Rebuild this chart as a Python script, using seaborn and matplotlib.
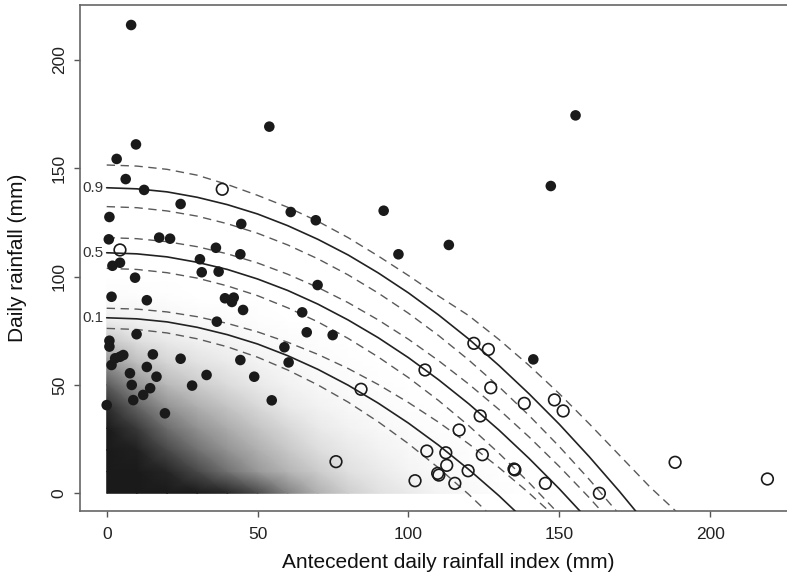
import numpy as np
import pandas as pd
import matplotlib
matplotlib.use("Agg")
import matplotlib.pyplot as plt
import seaborn as sns
from matplotlib.colors import LinearSegmentedColormap

# ---------------- data ----------------
# landslide-triggering events (filled circles)
filled_x = [8.1, 53.9, 155.4, 9.7, 3.3, 6.3, 147.2, 12.4, 24.5, 0.9, 61.0, 69.3, 91.8,
            44.6, 0.7, 17.4, 21.0, 36.2, 44.3, 96.7, 113.4, 30.9, 1.9, 4.4, 9.4, 31.5,
            37.1, 69.9, 1.6, 13.3, 39.2, 41.5, 42.1, 45.2, 64.8, 36.5, 66.3, 74.9, 9.9,
            58.9, 60.3, 44.3, 48.9, 33.1, 28.3, 54.7, 24.5, 15.3, 13.3, 0.9, 0.9, 4.4,
            2.8, 5.5, 1.6, 7.7, 8.3, 8.8, 12.1, 14.4, 16.5, 19.3, 0.0, 141.4]
filled_y = [216.1, 169.2, 174.4, 161.0, 154.3, 145.0, 141.8, 140.0, 133.5, 127.5, 129.8,
            126.0, 130.4, 124.3, 117.2, 118.0, 117.5, 113.3, 110.3, 110.3, 114.6, 108.0,
            105.0, 106.4, 99.5, 102.0, 102.3, 96.1, 90.7, 89.1, 90.0, 88.3, 90.3, 84.6,
            83.5, 79.2, 74.3, 73.0, 73.4, 67.4, 60.4, 61.5, 53.8, 54.6, 49.7, 42.9, 62.1,
            64.1, 58.3, 70.4, 67.7, 63.0, 62.3, 63.8, 59.2, 55.4, 50.0, 43.0, 45.4, 48.5,
            53.8, 36.9, 40.7, 61.8]

# open circles
open_x = [38.3, 4.4, 84.3, 76.0, 121.7, 126.5, 105.5, 127.3, 138.4, 148.4, 151.3, 123.8,
          116.8, 106.1, 112.4, 112.7, 109.7, 110.1, 115.4, 119.8, 102.2, 124.5, 135.3,
          135.0, 145.4, 163.3, 188.4, 219.0]
open_y = [140.3, 112.3, 48.0, 14.6, 69.2, 66.4, 56.9, 48.7, 41.5, 43.1, 38.0, 35.7, 29.2,
          19.5, 18.7, 12.9, 9.2, 8.4, 4.6, 10.4, 5.8, 17.8, 10.8, 11.2, 4.6, 0.0, 14.3, 6.6]

# density (ink coverage) of the cloud of daily records, on a 10 x 10 mm grid
dens_x = [0, 10, 20, 30, 40, 50, 60, 70, 80, 90, 100, 110, 120, 130, 140]
dens_y = [0, 10, 20, 30, 40, 50, 60, 70, 80, 90, 100]
dens_rows = [
    [1.00, 1.00, 1.00, 1.00, 0.95, 0.80, 0.55, 0.35, 0.22, 0.14, 0.09, 0.05, 0.03, 0.01, 0.0],
    [1.00, 1.00, 0.95, 0.80, 0.62, 0.45, 0.33, 0.23, 0.14, 0.09, 0.05, 0.03, 0.015, 0.005, 0.0],
    [1.00, 0.97, 0.80, 0.62, 0.47, 0.35, 0.24, 0.15, 0.10, 0.06, 0.035, 0.02, 0.01, 0.0, 0.0],
    [1.00, 0.86, 0.64, 0.48, 0.36, 0.26, 0.17, 0.10, 0.06, 0.035, 0.02, 0.01, 0.0, 0.0, 0.0],
    [0.92, 0.68, 0.47, 0.35, 0.26, 0.17, 0.10, 0.06, 0.035, 0.02, 0.01, 0.0, 0.0, 0.0, 0.0],
    [0.72, 0.47, 0.31, 0.23, 0.16, 0.10, 0.06, 0.035, 0.02, 0.01, 0.0, 0.0, 0.0, 0.0, 0.0],
    [0.48, 0.29, 0.19, 0.13, 0.09, 0.06, 0.035, 0.02, 0.01, 0.0, 0.0, 0.0, 0.0, 0.0, 0.0],
    [0.26, 0.15, 0.10, 0.07, 0.05, 0.03, 0.02, 0.01, 0.0, 0.0, 0.0, 0.0, 0.0, 0.0, 0.0],
    [0.08, 0.06, 0.04, 0.03, 0.02, 0.01, 0.0, 0.0, 0.0, 0.0, 0.0, 0.0, 0.0, 0.0, 0.0],
    [0.02, 0.015, 0.01, 0.0, 0.0, 0.0, 0.0, 0.0, 0.0, 0.0, 0.0, 0.0, 0.0, 0.0, 0.0],
    [0.0, 0.0, 0.0, 0.0, 0.0, 0.0, 0.0, 0.0, 0.0, 0.0, 0.0, 0.0, 0.0, 0.0, 0.0],
]

# threshold curves (quantiles) and their confidence bands
curve_x = [0, 10, 20, 30, 40, 50, 60, 70, 80, 90, 100, 110, 120, 130, 140, 150, 160,
           170, 180, 190, 200]
q90 = [141.0, 140.5, 139.1, 136.6, 133.2, 128.9, 123.5, 117.2, 110.0, 101.7, 92.5, 82.3,
       71.2, 59.0, 45.9, 31.9, 16.8, 0.8, -16.1, -34.1, -53.0]
q50 = [111.0, 110.5, 109.1, 106.6, 103.3, 98.9, 93.6, 87.3, 80.0, 71.8, 62.6, 52.4, 41.3,
       29.2, 16.1, 2.1, -12.9, -28.9, -45.8, -63.7, -82.6]
q10 = [81.0, 80.5, 79.1, 76.6, 73.2, 68.9, 63.5, 57.2, 49.9, 41.6, 32.4, 22.2, 11.0, -1.1,
       -14.3, -28.4, -43.4, -59.5, -76.5, -94.4, -113.4]
q90_hi = [151.5, 151.0, 149.5, 146.8, 142.5, 137.5, 132.0, 125.5, 118.0, 109.5, 100.5,
          91.0, 82.0, 71.0, 59.0, 46.0, 32.0, 17.5, 3.0, -10.0, -24.0]
q90_lo = [132.3, 131.8, 130.3, 127.9, 124.4, 120.0, 114.6, 108.2, 100.8, 92.4, 83.1, 72.8,
          61.5, 49.2, 35.9, 21.6, 6.3, -9.9, -27.1, -45.3, -64.5]
q50_hi = [118.0, 117.5, 116.1, 113.8, 110.5, 106.3, 101.1, 95.0, 88.0, 80.0, 71.1, 61.2,
          50.4, 38.7, 26.0, 12.4, -2.1, -17.6, -34.0, -51.4, -69.7]
q50_lo = [103.8, 103.3, 101.8, 99.3, 95.7, 91.2, 85.6, 79.1, 71.5, 62.9, 53.4, 42.8, 31.2,
          18.5, 4.9, -9.7, -25.4, -42.0, -59.7, -78.3, -98.0]
q10_hi = [85.4, 85.0, 83.7, 81.5, 78.4, 74.5, 69.7, 64.1, 57.6, 50.2, 41.9, 32.8, 22.8,
          11.9, 0.1, -12.5, -26.0, -40.3, -55.5, -71.6, -88.6]
q10_lo = [76.1, 75.6, 74.0, 71.3, 67.6, 62.8, 56.9, 50.0, 42.1, 33.0, 22.9, 11.7, -0.5,
          -13.8, -28.2, -43.6, -60.1, -77.6, -96.3, -116.0, -136.7]
quantile_labels = ["0.9", "0.5", "0.1"]

x_ticks = [0, 50, 100, 150, 200]
y_ticks = [0, 50, 100, 150, 200]

# ---------------- plotting ----------------
sns.set_style("ticks")
plt.rcParams["font.family"] = ["Liberation Sans", "DejaVu Sans"]

INK = "#1a1a1a"
fig = plt.figure(figsize=(7.87, 5.76), dpi=100)
ax = fig.add_axes([80 / 787, (576 - 511) / 576, (817 - 80) / 787, (511 - 5) / 576])

# dense cloud of ordinary days
cmap = LinearSegmentedColormap.from_list("ink", ["#ffffff", INK])
gx, gy = np.meshgrid(dens_x, dens_y)
ax.pcolormesh(gx, gy, np.array(dens_rows), shading="gouraud", cmap=cmap,
              vmin=0, vmax=1, zorder=1)

# curves
for ys in (q90_hi, q90_lo, q50_hi, q50_lo, q10_hi, q10_lo):
    sns.lineplot(x=curve_x, y=ys, ax=ax, color="#5a5a5a", linewidth=1.0,
                 linestyle=(0, (6, 4)), estimator=None, sort=False, zorder=2)
for ys in (q90, q50, q10):
    sns.lineplot(x=curve_x, y=ys, ax=ax, color="#222222", linewidth=1.2,
                 estimator=None, sort=False, zorder=3)

for lab, ys in zip(quantile_labels, (q90, q50, q10)):
    ax.text(-1.2, ys[0], lab, ha="right", va="center", fontsize=11, color="#333333",
            zorder=4)

# events
sns.scatterplot(x=filled_x, y=filled_y, ax=ax, s=58, color=INK, edgecolor="none",
                zorder=5)
sns.scatterplot(x=open_x, y=open_y, ax=ax, s=70, marker="o", facecolors="none",
                edgecolors=INK, linewidths=1.2, zorder=5)

ax.set_xlim((80 - 106.7) / 3.017, (817 - 106.7) / 3.017)
ax.set_ylim((493.3 - 511) / 2.167, (493.3 - 5) / 2.167)
ax.set_xticks(x_ticks)
ax.set_yticks(y_ticks)
ax.set_xticklabels([str(v) for v in x_ticks], fontsize=12.5, color="#222222")
ax.set_yticklabels([str(v) for v in y_ticks], fontsize=12.5, color="#222222",
                   rotation=90, va="center")
ax.tick_params(axis="both", direction="out", length=4.5, width=1.0, color="#555555")
ax.tick_params(axis="x", pad=7)
ax.tick_params(axis="y", pad=5)

for side in ("left", "bottom", "top", "right"):
    ax.spines[side].set_color("#666666")
    ax.spines[side].set_linewidth(1.2)

ax.set_xlabel("Antecedent daily rainfall index (mm)", fontsize=15, color="#111111",
              labelpad=8)
ax.set_ylabel("Daily rainfall (mm)", fontsize=15, color="#111111", labelpad=18)

fig.savefig("out.png", dpi=100)
